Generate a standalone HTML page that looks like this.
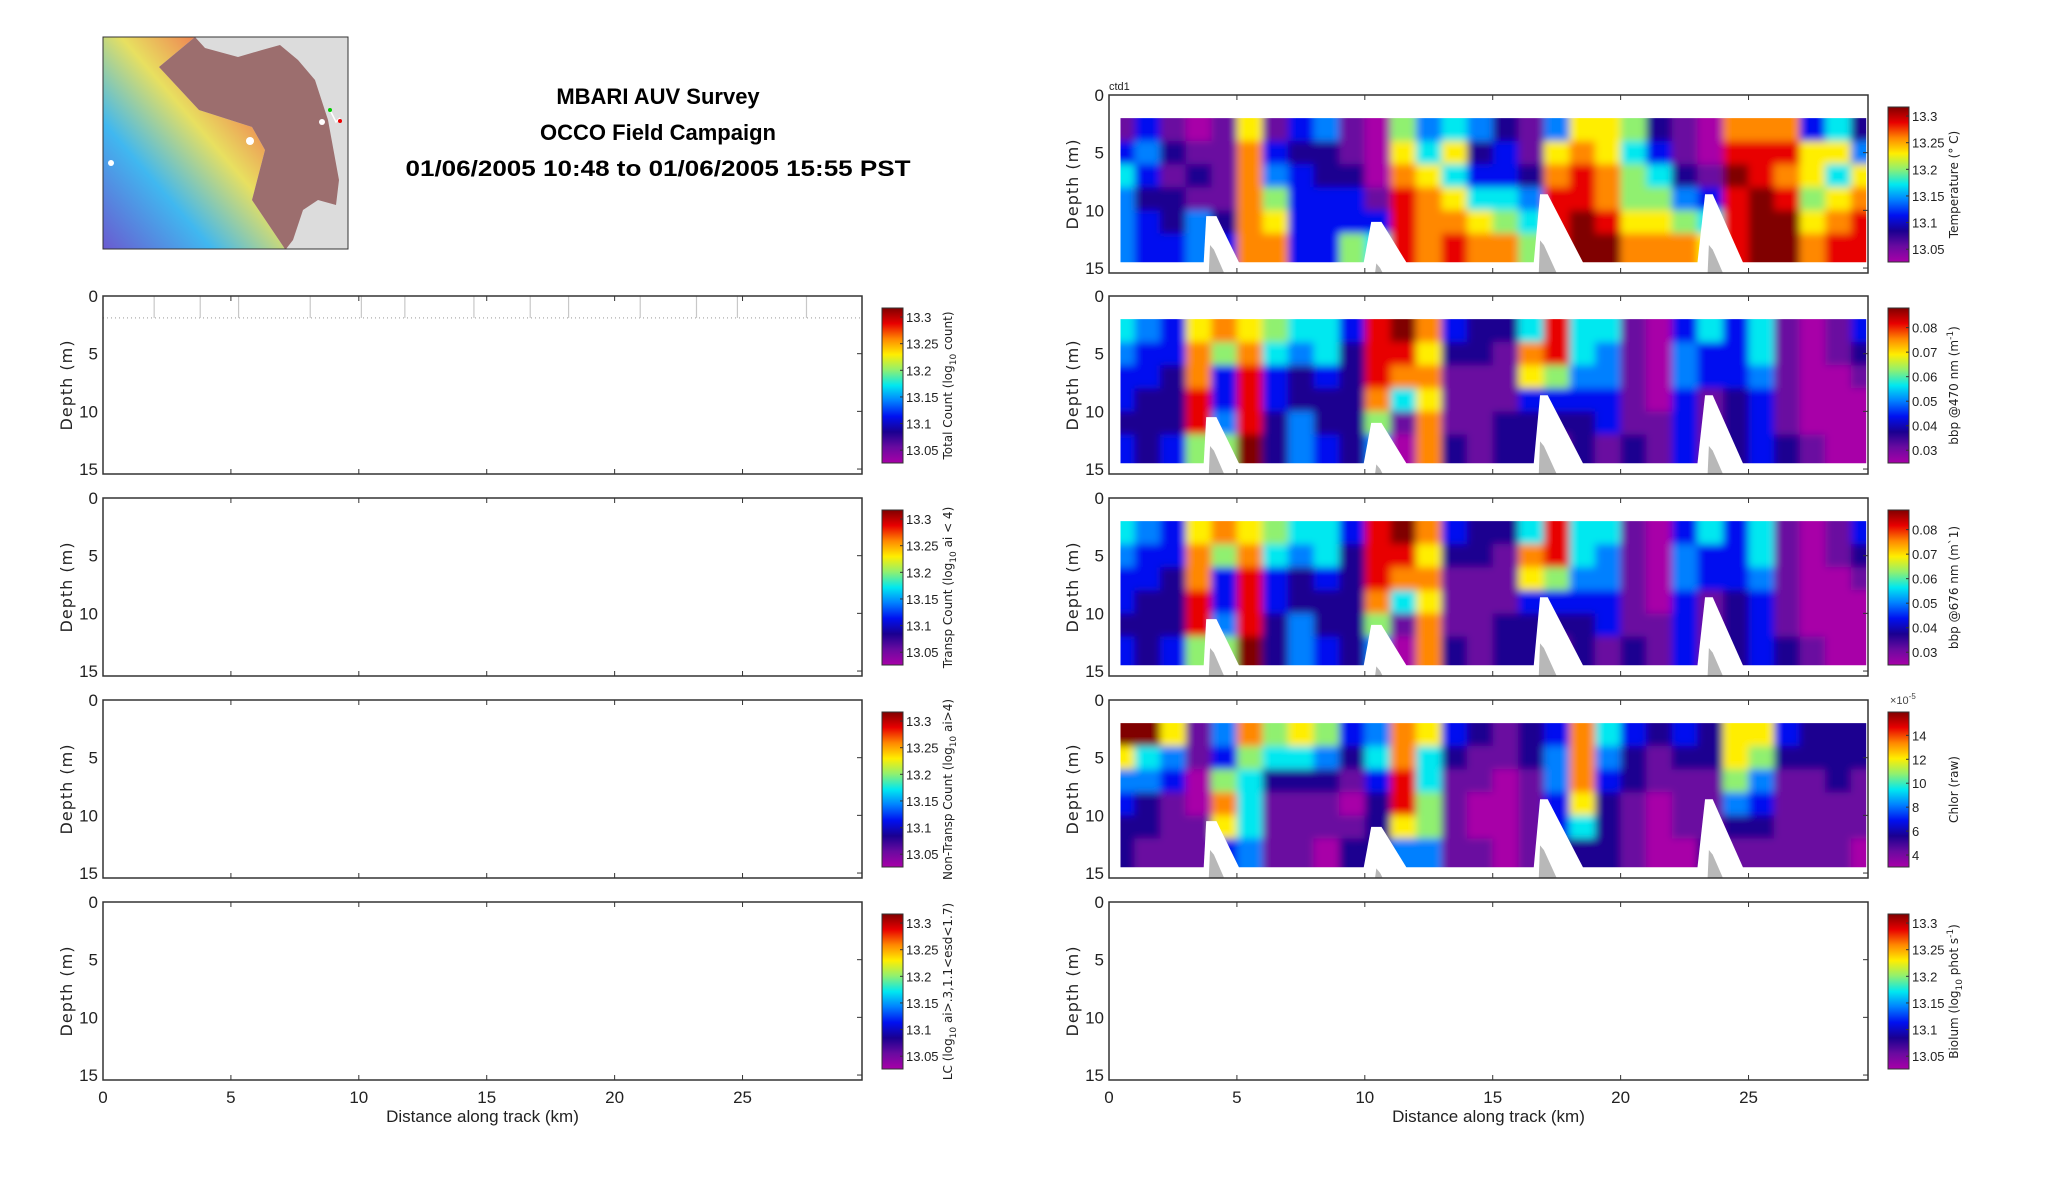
<!DOCTYPE html>
<html><head><meta charset="utf-8">
<style>
html,body{margin:0;padding:0;background:#fff;}
svg{display:block;font-family:"Liberation Sans",sans-serif;}
</style></head>
<body>
<svg id="fig" xmlns="http://www.w3.org/2000/svg" width="2052" height="1188" viewBox="0 0 2052 1188">
<defs>
<linearGradient id="cmap" x1="0" y1="1" x2="0" y2="0">
<stop offset="0" stop-color="#a800a8"/><stop offset="0.1" stop-color="#6a0aa0"/><stop offset="0.2" stop-color="#1a0090"/>
<stop offset="0.3" stop-color="#0010f0"/><stop offset="0.4" stop-color="#0080ff"/><stop offset="0.5" stop-color="#00e8f0"/>
<stop offset="0.6" stop-color="#90f070"/><stop offset="0.7" stop-color="#ffee00"/><stop offset="0.8" stop-color="#ff8800"/>
<stop offset="0.9" stop-color="#e80000"/><stop offset="1" stop-color="#800000"/>
</linearGradient>
<linearGradient id="rainbow" x1="0" y1="1" x2="1" y2="0">
<stop offset="0" stop-color="#6a5ad0"/><stop offset="0.3" stop-color="#40b8f0"/><stop offset="0.55" stop-color="#e8e060"/><stop offset="0.8" stop-color="#f07050"/><stop offset="1" stop-color="#e05050"/>
</linearGradient>
<filter id="smooth" x="-0.05" y="-0.2" width="1.1" height="1.4"><feGaussianBlur stdDeviation="4"/></filter>
</defs>
<g>
<rect x="103" y="37" width="245" height="212" fill="#dcdcdc"/>
<polygon fill="url(#rainbow)" points="103,37 195,37 159,67 199,110 252,127 265,150 252,200 285,249 103,249"/>
<polygon fill="#9c6e6e" points="195,37 205,48 238,57 262,50 280,45 298,60 315,80 328,120 339,180 336,205 318,200 303,210 293,240 286,249 285,249 252,200 265,150 252,127 199,110 159,67"/>
<circle cx="111" cy="163" r="3" fill="#fff"/><circle cx="250" cy="141" r="4" fill="#fff"/><circle cx="322" cy="122" r="3" fill="#fff"/>
<polyline points="330,110 336,122 340,118" stroke="#fff" stroke-width="1.5" fill="none"/>
<circle cx="330" cy="110" r="2" fill="#0c0"/><circle cx="340" cy="121" r="2" fill="#e00"/>
<rect x="103" y="37" width="245" height="212" fill="none" stroke="#333" stroke-width="1"/>
</g>
<g font-weight="bold" font-size="22" text-anchor="middle" fill="#000">
<text x="658" y="104">MBARI AUV Survey</text>
<text x="658" y="140">OCCO Field Campaign</text>
<text x="658" y="176" textLength="505" lengthAdjust="spacingAndGlyphs">01/06/2005 10:48 to 01/06/2005 15:55 PST</text>
</g>
<g id="plots"></g>
</svg>
<script>
// ---- data (colour levels 0..10 of each colorbar) ----
const depthBins = [2, 4, 6, 8, 10, 12, 14.5];
const dataStartKm = 0.45;
const dataEndKm = 29.6;
const tempLevels = [
[1,3,5,4,4,4],[3,4,3,2,3,3],[1,2,1,2,2,3],[0,1,2,1,4,4],[1,1,1,1,2,3],[7,8,8,8,8,8],
[1,3,4,6,7,8],[3,2,3,3,3,3],[4,2,2,3,3,3],[1,1,2,3,3,6],[0,0,0,1,3,5],[6,7,8,9,9,9],
[4,5,7,8,8,8],[5,7,5,7,8,9],[4,2,3,5,7,8],[2,3,3,5,6,8],[1,1,2,4,5,6],[4,7,8,9,9,9],
[7,8,9,9,10,10],[7,7,8,8,9,10],[6,5,6,6,7,8],[2,3,5,6,7,8],[1,1,2,4,6,8],[0,0,1,3,5,7],
[8,9,10,9,9,9],[8,9,9,10,10,10],[8,9,8,9,10,10],[3,7,7,6,7,8],[5,7,5,7,8,9],[2,4,7,8,9,9]];
const bbp470Levels = [
[5,4,3,3,2,3],[4,3,3,2,2,2],[3,3,2,2,2,3],[7,8,8,9,9,6],[8,6,3,3,4,6],[7,8,9,9,9,10],
[6,5,3,3,2,2],[5,4,2,2,4,4],[5,5,3,2,2,3],[3,2,2,2,2,2],[9,9,9,8,6,4],[10,9,8,5,1,0],
[8,7,8,7,8,8],[3,2,1,1,1,2],[2,2,1,1,1,1],[2,1,1,1,2,2],[5,8,7,3,2,2],[9,9,6,3,2,1],
[5,5,4,3,2,2],[5,4,4,3,3,1],[1,1,1,1,1,2],[0,0,0,0,1,1],[3,4,4,3,3,3],[5,3,3,1,1,1],
[3,3,3,2,2,2],[5,5,4,3,3,3],[1,1,1,1,1,2],[0,0,0,0,0,1],[1,1,0,0,0,0],[3,2,1,0,0,0]];
const bbp676Levels = [
[5,4,3,3,2,3],[4,3,3,2,2,2],[3,3,2,2,2,3],[7,8,8,9,9,6],[8,6,3,3,4,6],[7,8,9,9,9,10],
[6,5,3,3,2,2],[5,4,2,2,4,4],[5,5,3,2,2,3],[3,2,2,2,2,2],[9,9,9,8,6,4],[10,9,8,5,1,0],
[8,7,8,7,8,8],[3,2,1,1,1,2],[2,2,1,1,1,1],[2,1,1,1,2,2],[5,8,7,3,2,2],[9,9,6,3,2,1],
[5,5,4,3,2,2],[5,4,4,3,3,1],[1,1,1,1,1,2],[0,0,0,0,1,1],[3,4,4,3,3,3],[5,3,3,1,1,1],
[3,3,3,2,2,2],[5,5,4,3,3,3],[1,1,1,1,1,2],[0,0,0,0,0,1],[1,1,0,0,0,0],[3,2,1,0,0,0]];
const chlorLevels = [
[10,7,4,3,2,2],[10,5,4,2,2,1],[7,4,3,1,1,1],[1,1,0,0,1,1],[4,3,6,8,7,3],[8,6,5,5,5,4],
[6,5,2,1,1,1],[7,5,2,1,1,1],[6,4,2,1,1,0],[3,2,1,0,1,2],[4,5,3,2,2,2],[8,8,9,9,7,4],
[7,5,5,6,6,4],[3,2,1,1,1,1],[2,1,1,0,0,1],[1,1,0,0,0,0],[2,2,1,1,1,1],[3,4,4,3,3,2],
[8,8,8,7,5,2],[5,4,3,2,2,2],[3,2,2,1,1,1],[2,1,1,0,0,0],[3,2,1,1,1,0],[2,2,1,1,1,2],
[7,7,6,4,2,1],[7,6,4,3,2,1],[3,2,1,1,1,1],[2,2,1,1,1,1],[2,2,2,1,1,1],[2,2,1,1,1,0]];
// gaps below the vehicle yo-yo (km, depth)
const gapKm = [[3.7,3.8,4.2,5.1],[9.95,10.25,10.65,11.65],[16.6,16.85,17.15,18.55],[23.0,23.3,23.6,24.8]];
const gapTopDepth = [10.5, 11, 8.6, 8.6];
const bottomKm = [[3.9,4.5],[10.4,10.7],[16.8,17.5],[23.4,24.0]];
const bottomDepth = [13.0, 14.6, 12.6, 13.0];
const countSpikeKm = [2.0,3.8,5.3,8.1,10.1,11.8,14.5,16.7,18.2,21.0,23.2,24.8,27.5];
// axes
const xTicks = [0,5,10,15,20,25];
const yTicks = [0,5,10,15];
const logTicks = [13.05,13.1,13.15,13.2,13.25,13.3];
const logRange = [13.026,13.317];
const bbpTicks = [0.03,0.04,0.05,0.06,0.07,0.08];
const bbpRange = [0.0248,0.088];
const chlorTicks = [4,6,8,10,12,14];
const chlorRange = [3.0,15.95];
const levelColors = ['#a800a8','#6a0aa0','#1a0090','#0010f0','#0080ff','#00e8f0','#90f070','#ffee00','#ff8800','#e80000','#800000'];

const X_MAX = 29.67, Y_MAX = 15.43, PW = 759, PH = 178, PAD = 14;
const NS = 'http://www.w3.org/2000/svg';
const root = document.getElementById('plots');
let clipId = 0;
function mk(tag, attrs, parent) {
  const e = document.createElementNS(NS, tag);
  for (const k in attrs) e.setAttribute(k, attrs[k]);
  (parent || root).appendChild(e);
  return e;
}
function tickLabel(v) { return String(v); }

function panel(name, x0, top, opts) {
  const g = mk('g', {});
  
  
  const xs = km => x0 + km * PW / X_MAX;
  const ys = d => top + d * PH / Y_MAX;
  mk('rect', {x: x0, y: top, width: PW, height: PH, fill: '#fff'}, g);
  if (opts.levels) {
    const cid = 'clip' + (clipId++);
    const cp = mk('clipPath', {id: cid}, g);
    mk('rect', {x: xs(dataStartKm), y: ys(depthBins[0]), width: xs(dataEndKm) - xs(dataStartKm), height: ys(depthBins[depthBins.length - 1]) - ys(depthBins[0])}, cp);
    const outer = mk('g', {'clip-path': 'url(#' + cid + ')'}, g);
    const hm = mk('g', {filter: 'url(#smooth)'}, outer);
    
    
    const nC = opts.levels.length, nR = depthBins.length - 1;
    opts.levels.forEach((col, k) => {
      const a = Math.max(k, dataStartKm), b = Math.min(k + 1, dataEndKm);
      col.forEach((lv, r) => {
        let x1 = xs(a), x2 = xs(b) + 0.6, y1 = ys(depthBins[r]), y2 = ys(depthBins[r + 1]) + 0.6;
        if (k === 0) x1 -= PAD;
        if (k === nC - 1) x2 += PAD;
        if (r === 0) y1 -= PAD;
        if (r === nR - 1) y2 += PAD;
        const c = mk('rect', {x: x1, y: y1, width: x2 - x1, height: y2 - y1, fill: levelColors[lv]}, hm);
        
        
      });
    });
    gapKm.forEach((gk, i) => {
      const p = mk('polygon', {fill: '#fff', points: [[gk[0], 14.6], [gk[1], gapTopDepth[i]], [gk[2], gapTopDepth[i]], [gk[3], 14.6]].map(q => xs(q[0]) + ',' + ys(q[1])).join(' ')}, g);
      
      
    });
    bottomKm.forEach((bk, i) => {
      const p = mk('polygon', {fill: '#b8b8b8', points: [[bk[0], Y_MAX], [bk[0] + 0.05, bottomDepth[i]], [bk[0] + 0.2, bottomDepth[i] + 0.4], [bk[1], Y_MAX]].map(q => xs(q[0]) + ',' + ys(q[1])).join(' ')}, g);
      
      
    });
  }
  if (opts.spikes) {
    mk('line', {x1: xs(0), x2: xs(X_MAX), y1: ys(1.9), y2: ys(1.9), stroke: '#bbb', 'stroke-width': 1.5, 'stroke-dasharray': '1 3'}, g);
    countSpikeKm.forEach(km => {
      const l = mk('line', {x1: xs(km), x2: xs(km), y1: ys(0.05), y2: ys(1.9), stroke: '#c8c8c8', 'stroke-width': 1.2}, g);
      
      
    });
  }
  mk('rect', {x: x0, y: top, width: PW, height: PH, fill: 'none', stroke: '#333', 'stroke-width': 1.5}, g);
  xTicks.forEach(t => {
    mk('line', {x1: xs(t), x2: xs(t), y1: top, y2: top + 5, stroke: '#333'}, g);
    mk('line', {x1: xs(t), x2: xs(t), y1: top + PH, y2: top + PH - 5, stroke: '#333'}, g);
    if (opts.xlabels) {
      const tx = mk('text', {x: xs(t), y: top + PH + 23, 'font-size': 17, 'text-anchor': 'middle', fill: '#222'}, g);
      
      
      tx.textContent = tickLabel(t);
    }
  });
  yTicks.forEach(t => {
    mk('line', {x1: x0 + PW, x2: x0 + PW - 5, y1: ys(t), y2: ys(t), stroke: '#333'}, g);
    const ty = mk('text', {x: x0 - 5, y: ys(t) + 6, 'font-size': 17, 'text-anchor': 'end', fill: '#222'}, g);
    
    
    ty.textContent = tickLabel(t);
  });
  const yl = mk('text', {transform: `translate(${x0 - 31},${top + PH / 2}) rotate(-90)`, 'font-size': 16, 'text-anchor': 'middle', 'font-family': 'DejaVu Sans, sans-serif', 'letter-spacing': '1', fill: '#222'}, g);
  
  
  yl.textContent = 'Depth (m)';
  if (opts.xlabels) {
    const xl = mk('text', {x: x0 + PW / 2, y: top + PH + 42, 'font-size': 17, 'text-anchor': 'middle', fill: '#222'}, g);
    
    
    xl.textContent = 'Distance along track (km)';
  }
  // colorbar
  const cx = x0 + PW + 20, cy = top + 12, ch = 155, cw = 21;
  const cb = mk('g', {}, g);
  
  
  mk('rect', {x: cx, y: cy, width: cw, height: ch, fill: 'url(#cmap)', stroke: '#333', 'stroke-width': 1}, cb);
  const [lo, hi] = opts.range;
  opts.ticks.forEach(t => {
    const yy = cy + ch - (t - lo) / (hi - lo) * ch;
    mk('line', {x1: cx + cw, x2: cx + cw - 3, y1: yy, y2: yy, stroke: '#333'}, cb);
    const tt = mk('text', {x: cx + cw + 3, y: yy + 5, 'font-size': 13, fill: '#222'}, cb);
    
    
    tt.textContent = tickLabel(t);
  });
  const cl = mk('text', {transform: `translate(${cx + 70},${cy + ch / 2}) rotate(-90)`, 'font-size': 12, 'text-anchor': 'middle', 'font-family': 'DejaVu Sans, sans-serif', fill: '#222'}, cb);
  
  
  cl.innerHTML = opts.label;
  if (opts.exp) {
    const ex = mk('text', {x: cx + 2, y: cy - 8, 'font-size': 11, fill: '#444'}, cb);
    
    
    ex.innerHTML = '×10<tspan dy="-5" font-size="8">-5</tspan>';
  }
  if (opts.tag) {
    const tg = mk('text', {x: x0, y: top - 5, 'font-size': 11, fill: '#222'}, g);
    
    
    tg.textContent = opts.tag;
  }
}
const sub10 = '<tspan dy="4" font-size="9">10</tspan><tspan dy="-4">';
panel('total-count-panel', 103, 296, {spikes: true, ticks: logTicks, range: logRange, label: 'Total Count (log' + sub10 + ' count)</tspan>'});
panel('transp-count-panel', 103, 498, {ticks: logTicks, range: logRange, label: 'Transp Count (log' + sub10 + ' ai &lt; 4)</tspan>'});
panel('non-transp-count-panel', 103, 700, {ticks: logTicks, range: logRange, label: 'Non-Transp Count (log' + sub10 + ' ai&gt;4)</tspan>'});
panel('lc-panel', 103, 902, {xlabels: true, ticks: logTicks, range: logRange, label: 'LC (log' + sub10 + ' ai&gt;.3,1.1&lt;esd&lt;1.7)</tspan>'});
panel('temperature-panel', 1109, 95, {levels: tempLevels, tag: 'ctd1', ticks: logTicks, range: logRange, label: 'Temperature (° C)'});
panel('bbp470-panel', 1109, 296, {levels: bbp470Levels, ticks: bbpTicks, range: bbpRange, label: 'bbp @470 nm (m<tspan dy="-5" font-size="9">-1</tspan><tspan dy="5">)</tspan>'});
panel('bbp676-panel', 1109, 498, {levels: bbp676Levels, ticks: bbpTicks, range: bbpRange, label: 'bbp @676 nm (m`1)'});
panel('chlor-panel', 1109, 700, {levels: chlorLevels, exp: true, ticks: chlorTicks, range: chlorRange, label: 'Chlor (raw)'});
panel('biolum-panel', 1109, 902, {xlabels: true, ticks: logTicks, range: logRange, label: 'Biolum (log' + sub10 + ' phot s<tspan dy="-5" font-size="9">-1</tspan><tspan dy="5">)</tspan></tspan>'});
</script>
</body></html>
